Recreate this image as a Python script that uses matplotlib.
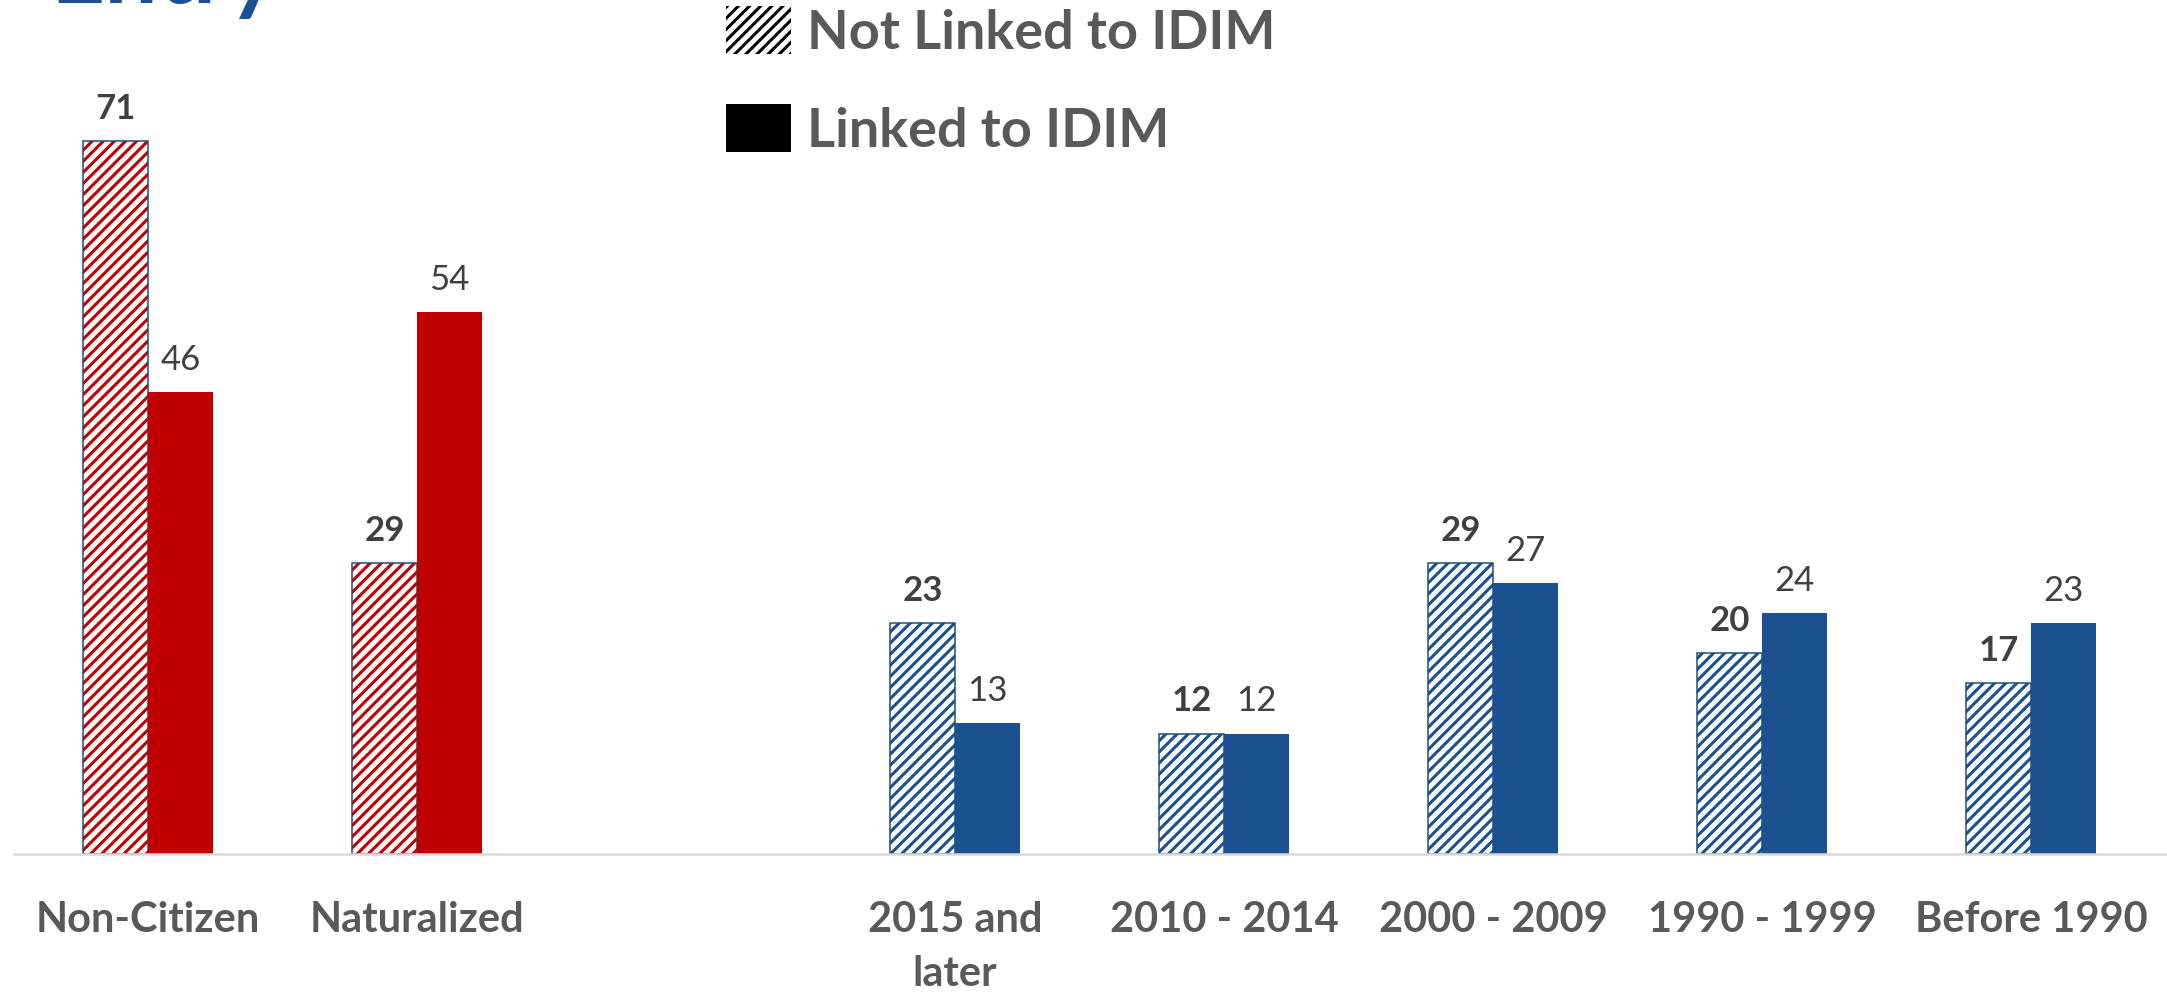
import numpy as np
import matplotlib
matplotlib.use('Agg')
import matplotlib.pyplot as plt
from matplotlib.patches import Patch

plt.rcParams['font.family'] = ['Lato', 'DejaVu Sans']
plt.rcParams['hatch.linewidth'] = 2.2

# Data
categories = ['Non-Citizen', 'Naturalized', '2015 and\nlater', '2010 - 2014',
              '2000 - 2009', '1990 - 1999', 'Before 1990']
not_linked = [71, 29, 23, 12, 29, 20, 17]
linked = [46, 54, 13, 12, 27, 24, 23]
group = ['citizenship', 'citizenship', 'entry', 'entry', 'entry', 'entry', 'entry']

RED = '#C00000'
BLUE = '#1B5091'
NAVY = '#1F4E79'
TEXT = '#404040'
LABEL = '#595959'

# one empty slot between the two groups
x = np.array([0, 1, 3, 4, 5, 6, 7])
colors = [RED if g == 'citizenship' else BLUE for g in group]
w = 0.242

fig = plt.figure(figsize=(21.67, 9.93), dpi=100)
ax = fig.add_axes([13.5 / 2167, 139 / 993, 2152 / 2167, 854 / 993])

# hatched bars (hatch takes the edge colour), then an outline on top
ax.bar(x - w / 2, not_linked, w, color='white', edgecolor=colors, hatch='///', linewidth=0)
ax.bar(x - w / 2, not_linked, w, color='none', edgecolor=NAVY, linewidth=1.1)
ax.bar(x + w / 2, linked, w, color=colors, linewidth=0)

for xi, v in zip(x - w / 2, not_linked):
    ax.annotate(str(v), (xi, v), xytext=(0, 16), textcoords='offset points',
                ha='center', va='baseline', fontsize=25, fontweight='bold', color=TEXT)
for xi, v in zip(x + w / 2, linked):
    ax.annotate(str(v), (xi, v), xytext=(0, 16), textcoords='offset points',
                ha='center', va='baseline', fontsize=25, color=TEXT)

ax.set_xlim(-0.5, 7.5)
ax.set_ylim(0, 85.06)
ax.set_xticks(x)
ax.set_xticklabels(categories, fontsize=30, fontweight='bold', color=LABEL,
                   linespacing=1.5, va='top')
ax.tick_params(axis='x', length=0, pad=34)
ax.set_yticks([])
for s in ['top', 'left', 'right']:
    ax.spines[s].set_visible(False)
ax.spines['bottom'].set_color('#D9D9D9')
ax.spines['bottom'].set_linewidth(1.8)

handles = [Patch(facecolor='white', edgecolor='black', hatch='///', linewidth=0),
           Patch(facecolor='black', edgecolor='black', linewidth=0)]
fig.legend(handles, ['Not Linked to IDIM', 'Linked to IDIM'],
           loc='upper left', bbox_to_anchor=(726 / 2167, 1 - 6 / 993),
           frameon=False, prop={'size': 39, 'weight': 'bold'}, labelcolor=LABEL,
           handlelength=1.2, handleheight=1.0, handletextpad=0.3,
           labelspacing=0.85, borderpad=0, borderaxespad=0)

# title, cut off at the top of the picture
fig.text(50 / 2167, 1 - 3 / 993, 'Entry', fontsize=68, color='#1B5093',
         fontweight='bold', ha='left', va='baseline')

fig.savefig('out.png', dpi=100)
